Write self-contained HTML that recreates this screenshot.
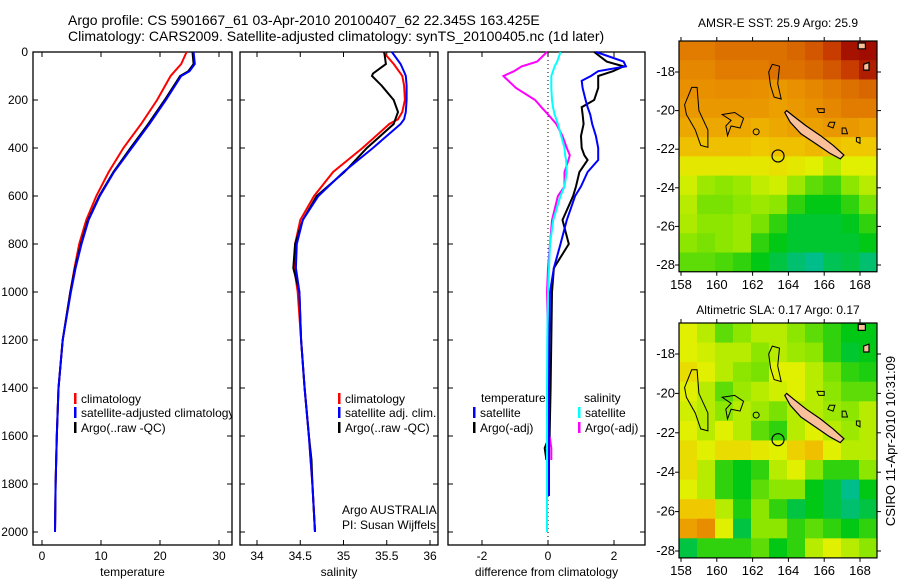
<!DOCTYPE html>
<html><head><meta charset="utf-8"><style>
html,body{margin:0;padding:0;background:#fff;}
svg{display:block;font-family:"Liberation Sans",sans-serif;}
text{fill:#000;}
</style></head><body>
<svg id="fig" width="900" height="580" viewBox="0 0 900 580" xmlns="http://www.w3.org/2000/svg">
<text x="68" y="25" font-size="14">Argo profile: CS 5901667_61 03-Apr-2010 20100407_62 22.345S 163.425E</text>
<text x="68" y="41" font-size="14">Climatology: CARS2009. Satellite-adjusted climatology: synTS_20100405.nc (1d later)</text>
<g id="g1"></g>
<g id="g2"></g>
<g id="g3"></g>
<g id="m1"></g>
<g id="m2"></g>
<text transform="translate(895,441) rotate(-90)" text-anchor="middle" font-size="13">CSIRO 11-Apr-2010 10:31:09</text>
</svg>
<script>
// ---- data ----
const tDepth=[0,50,80,100,200,300,400,500,600,700,800,900,1000,1200,1400,1600,1800,2000];
const tClim=[24.5,23.6,22.5,21.8,19.5,16.8,13.8,11.3,9.2,7.5,6.3,5.5,4.8,3.5,2.8,2.5,2.3,2.2];
const tSat=[25.7,25.9,25.0,23.6,21.0,18.2,15.2,12.2,9.8,7.9,6.7,5.7,4.9,3.5,2.8,2.5,2.3,2.2];
const tArgo=[25.5,25.7,24.8,23.4,20.8,18.0,15.0,12.1,9.7,7.8,6.6,5.6,4.8,3.5,2.8,2.5,2.3,2.2];
const sDepth=[0,50,90,100,140,200,250,280,300,400,500,600,700,800,900,1000,1200,1400,1600,1700,1800,2000];
const sClim=[35.46,35.58,35.66,35.68,35.70,35.71,35.68,35.63,35.53,35.22,34.88,34.66,34.50,34.44,34.43,34.47,34.51,34.55,34.60,34.62,34.64,34.67];
const sSat=[35.56,35.66,35.71,35.72,35.73,35.73,35.72,35.70,35.66,35.34,35.00,34.71,34.53,34.46,34.45,34.49,34.51,34.55,34.60,34.62,34.64,34.67];
const sArgo=[35.47,35.49,35.34,35.33,35.44,35.58,35.63,35.60,35.58,35.27,35.01,34.69,34.53,34.44,34.42,34.49,34.51,34.55,34.60,34.63,34.64,34.67];
const dDepth=[0,40,60,80,100,120,150,200,230,260,300,350,400,430,450,500,560,600,700,800,900,1000,1200,1400,1600,1650,1700,1850,2000];
const dTempSat=[1.46,2.29,2.36,1.52,1.30,1.02,1.05,1.14,1.2,1.28,1.34,1.45,1.52,1.52,1.52,1.2,1.0,0.82,0.57,0.38,0.18,0.06,0.04,0.03,0.03,0.03,0.03,0.03,null];
const dTempArgo=[1.4,1.78,2.29,1.97,1.52,1.52,1.52,1.4,1.02,1.05,1.08,1.0,1.02,1.1,1.2,0.95,0.85,0.76,0.44,0.63,0.18,0.12,0.1,0.08,0.05,-0.1,-0.05,null,null];
const dSalSat=[0.38,0.28,0.2,0.15,0.1,0.1,0.1,0.12,0.15,0.2,0.3,0.4,0.5,0.52,0.55,0.57,0.5,0.38,0.16,0.06,0.03,0.0,-0.02,-0.03,-0.03,-0.03,-0.03,-0.03,-0.03];
const dSalArgo=[-0.03,-0.33,-0.8,-1.03,-1.35,-1.2,-0.97,-0.39,-0.2,0.0,0.25,0.44,0.57,0.66,0.62,0.5,0.5,0.3,0.12,0.06,0.0,-0.03,0.0,0.02,0.05,0.1,0.1,null,null];
const tTicks=[0,10,20,30];
const sTicks=[34,34.5,35,35.5,36];
const dTicks=[-2,0,2];
const zTicks=[0,200,400,600,800,1000,1200,1400,1600,1800,2000];
const lonTicks=[158,160,162,164,166,168];
const latTicks=[18,20,22,24,26,28];
const sstGrid=[
[.78,.78,.8,.8,.8,.8,.82,.85,.9,.97,.98],
[.76,.76,.78,.78,.78,.8,.8,.82,.85,.9,.95],
[.74,.74,.75,.75,.74,.72,.74,.76,.78,.8,.82],
[.72,.72,.72,.72,.72,.7,.72,.74,.76,.78,.78],
[.68,.68,.68,.68,.66,.68,.7,.7,.72,.72,.7],
[.62,.62,.62,.62,.6,.62,.62,.64,.62,.6,.6],
[.52,.52,.52,.52,.52,.54,.52,.5,.45,.5,.5],
[.48,.42,.4,.42,.46,.48,.42,.35,.32,.4,.45],
[.45,.38,.38,.4,.42,.4,.3,.25,.25,.3,.38],
[.44,.4,.4,.42,.38,.3,.22,.22,.22,.24,.3],
[.4,.38,.4,.42,.3,.25,.22,.22,.22,.22,.25],
[.35,.35,.33,.3,.25,.2,.15,.12,.18,.2,.15]];
const slaGrid=[
[.5,.45,.35,.4,.45,.45,.4,.35,.3,.25,.25],
[.5,.48,.45,.45,.4,.45,.42,.4,.3,.22,.25],
[.55,.5,.45,.4,.38,.5,.5,.45,.38,.3,.28],
[.5,.45,.35,.42,.45,.48,.5,.45,.4,.35,.35],
[.48,.45,.4,.45,.42,.38,.45,.45,.42,.4,.45],
[.5,.45,.5,.45,.35,.3,.45,.5,.45,.42,.45],
[.55,.5,.55,.55,.52,.5,.58,.62,.5,.45,.45],
[.55,.45,.3,.25,.3,.45,.5,.4,.3,.3,.4],
[.5,.45,.3,.25,.35,.4,.4,.25,.2,.12,.25],
[.6,.6,.45,.28,.4,.3,.2,.25,.2,.15,.2],
[.7,.75,.5,.2,.4,.4,.3,.35,.3,.25,.3],
[.2,.3,.3,.3,.35,.25,.3,.45,.5,.45,.4]];

const NS='http://www.w3.org/2000/svg';
function mk(tag,attrs,parent){const e=document.createElementNS(NS,tag);for(const k in attrs)e.setAttribute(k,attrs[k]);parent.appendChild(e);return e;}
const top0=52,bot=545,yz=d=>52+0.24*d;

function panel(g,x0,x1,xs,ticks,fmt,label,showY){
  const r=mk('rect',{x:x0,y:top0,width:x1-x0,height:bot-top0,fill:'none',stroke:'#000','stroke-width':1.3},g);
  
  
  ticks.forEach(v=>{const x=xs(v);
    mk('line',{x1:x,x2:x,y1:bot,y2:bot-5,stroke:'#000'},g);mk('line',{x1:x,x2:x,y1:top0,y2:top0+5,stroke:'#000'},g);
    const t=mk('text',{x:x,y:560,'text-anchor':'middle','font-size':12},g);t.textContent=fmt(v);
    
    });
  zTicks.forEach(d=>{const y=yz(d);
    mk('line',{x1:x0,x2:x0+5,y1:y,y2:y,stroke:'#000'},g);mk('line',{x1:x1,x2:x1-5,y1:y,y2:y,stroke:'#000'},g);
    if(showY){const t=mk('text',{x:28,y:y+4,'text-anchor':'end','font-size':12},g);t.textContent=d;
      
      }});
  const l=mk('text',{x:(x0+x1)/2,y:576,'text-anchor':'middle','font-size':12},g);l.textContent=label;
  
  
}
function line(g,xs,vals,depths,color,name){
  let d='',pen=false;
  vals.forEach((v,i)=>{if(v===null){pen=false;return;}d+=(pen?'L':'M')+xs(v).toFixed(1)+','+yz(depths[i]).toFixed(1);pen=true;});
  const p=mk('path',{d:d,fill:'none',stroke:color,'stroke-width':2},g);
  
  
}
function legend(g,x,y,color,text,name){
  mk('rect',{x:x,y:y-9,width:2.5,height:11,fill:color},g);
  const t=mk('text',{x:x+7,y:y+1,'font-size':12},g);t.textContent=text;
  
  
}
const g1=document.getElementById('g1');const xT=v=>42+5.9*v;
panel(g1,33,232,xT,tTicks,v=>v,'temperature',true);
line(g1,xT,tClim,tDepth,'#f00','temp-climatology-line');
line(g1,xT,tArgo,tDepth,'#000','temp-argo-line');
line(g1,xT,tSat,tDepth,'#00f','temp-satellite-line');
const cl=mk('clipPath',{id:'c1'},g1);mk('rect',{x:33,y:52,width:199,height:493},cl);
const lg1=mk('g',{'clip-path':'url(#c1)'},g1);
legend(lg1,74,402,'#f00','climatology','legend-climatology');
legend(lg1,74,416,'#00f','satellite-adjusted climatology','legend-satellite');
legend(lg1,74,431,'#000','Argo(..raw -QC)','legend-argo');
const g2=document.getElementById('g2');const xS=v=>257+86.5*(v-34);
panel(g2,240,438,xS,sTicks,v=>v,'salinity',false);
line(g2,xS,sClim,sDepth,'#f00','sal-climatology-line');
line(g2,xS,sArgo,sDepth,'#000','sal-argo-line');
line(g2,xS,sSat,sDepth,'#00f','sal-satellite-line');
legend(g2,338,402,'#f00','climatology','legend-climatology');
legend(g2,338,416,'#00f','satellite adj. clim.','legend-satellite');
legend(g2,338,431,'#000','Argo(..raw -QC)','legend-argo');
[['Argo AUSTRALIA',514],['PI: Susan Wijffels',529]].forEach(a=>{const t=mk('text',{x:342,y:a[1],'font-size':12},g2);t.textContent=a[0];
  
  });
const g3=document.getElementById('g3');const xD=v=>548+33*v;
panel(g3,448,645,xD,dTicks,v=>v,'difference from climatology',false);
mk('line',{x1:xD(0),x2:xD(0),y1:52,y2:545,stroke:'#000','stroke-dasharray':'1,3'},g3);
line(g3,xD,dSalArgo,dDepth,'#f0f','sal-argo-diff-line');
line(g3,xD,dTempArgo,dDepth,'#000','temp-argo-diff-line');
line(g3,xD,dTempSat,dDepth,'#00f','temp-satellite-diff-line');
line(g3,xD,dSalSat,dDepth,'#0ff','sal-satellite-diff-line');
[['temperature',481,402],['salinity',584,402]].forEach(a=>{const t=mk('text',{x:a[1],y:a[2],'font-size':12},g3);t.textContent=a[0];
  
  });
legend(g3,473,416,'#00f','satellite','legend-temp-satellite');
legend(g3,473,431,'#000','Argo(-adj)','legend-temp-argo');
legend(g3,578,416,'#0ff','satellite','legend-sal-satellite');
legend(g3,578,431,'#f0f','Argo(-adj)','legend-sal-argo');

const stops=[[0,[40,150,230]],[.12,[0,190,140]],[.25,[0,200,20]],[.4,[140,230,0]],[.5,[225,240,0]],[.6,[240,200,0]],[.75,[232,140,0]],[.9,[200,60,0]],[1,[150,0,0]]];
function cmap(v){for(let i=1;i<stops.length;i++){if(v<=stops[i][0]){const a=stops[i-1],b=stops[i],f=(v-a[0])/(b[0]-a[0]);return 'rgb('+a[1].map((c,k)=>Math.round(c+f*(b[1][k]-c))).join(',')+')';}}return 'rgb(150,0,0)';}
const outlines=[
 [[158.2,19.7],[158.6,18.8],[158.9,18.8],[159.0,20.0],[159.5,21.0],[159.5,21.9],[159.1,21.8],[158.8,21.0],[158.3,20.2]],
 [[160.3,20.2],[161.0,20.1],[161.5,20.4],[161.3,20.9],[160.8,20.8],[160.6,21.3],[160.5,20.8],[160.8,20.5]],
 [[162.9,18.0],[163.1,17.6],[163.5,17.7],[163.4,18.6],[163.6,19.4],[163.2,19.3],[163.0,18.7]],
 [[165.6,19.9],[166,19.9],[166,20.1],[165.7,20.1]],
 [[166.3,20.6],[166.6,20.6],[166.5,20.9],[166.2,20.8]],
 [[167.0,20.9],[167.2,20.9],[167.3,21.2],[167.0,21.2]],
 [[167.8,21.4],[168,21.4],[168,21.7],[167.8,21.6]]];
const filled=[
 [[163.9,20.0],[164.3,20.3],[165,20.8],[165.8,21.3],[166.5,21.8],[167.1,22.3],[166.9,22.5],[166.3,22.2],[165.5,21.7],[164.7,21.2],[164.1,20.6],[163.8,20.1]],
 [[168.2,17.6],[168.5,17.5],[168.5,17.9],[168.2,17.9]],
 [[167.9,16.5],[168.3,16.5],[168.3,16.8],[167.9,16.8]]];
function map(g,top,y18,pdeg,grid,title,titleY){
  const x0=679,x1=877,xl=v=>681+(v-158)*17.9,yl=v=>y18+(v-18)*pdeg;
  const bottom=yl(28.35);
  const cl=mk('clipPath',{id:'cp'+top},g);mk('rect',{x:x0,y:top,width:x1-x0,height:bottom-top},cl);
  const cg=mk('g',{'clip-path':'url(#cp'+top+')'},g);
  const rows=grid.length,cols=grid[0].length,ch=(bottom-top)/rows,cw=(x1-x0)/cols;
  grid.forEach((row,r)=>row.forEach((v,c)=>{
    const cell=mk('rect',{x:x0+c*cw,y:top+r*ch,width:cw+.6,height:ch+.6,fill:cmap(v)},cg);
    
    }));
  const pts=a=>a.map(p=>xl(p[0]).toFixed(1)+','+yl(p[1]).toFixed(1)).join(' ');
  outlines.forEach(o=>mk('polygon',{points:pts(o),fill:'none',stroke:'#000','stroke-width':1},cg));
  filled.forEach(o=>mk('polygon',{points:pts(o),fill:'#f9c09a',stroke:'#000','stroke-width':1.2},cg));
  mk('circle',{cx:xl(162.2),cy:yl(21.1),r:3,fill:'none',stroke:'#000'},cg);
  const c=mk('circle',{cx:xl(163.42),cy:yl(22.35),r:6,fill:'none',stroke:'#000','stroke-width':1.2},cg);
  
  
  mk('rect',{x:x0,y:top,width:x1-x0,height:bottom-top,fill:'none',stroke:'#000','stroke-width':1.2},g);
  lonTicks.forEach(v=>{const x=xl(v);mk('line',{x1:x,x2:x,y1:bottom,y2:bottom+4,stroke:'#000'},g);mk('line',{x1:x,x2:x,y1:top,y2:top-4,stroke:'#000'},g);
    const t=mk('text',{x:x,y:bottom+17,'text-anchor':'middle','font-size':13},g);t.textContent=v;
    
    });
  latTicks.forEach(v=>{const y=yl(v);mk('line',{x1:x0,x2:x0-4,y1:y,y2:y,stroke:'#000'},g);mk('line',{x1:x1,x2:x1+4,y1:y,y2:y,stroke:'#000'},g);
    const t=mk('text',{x:675,y:y+4,'text-anchor':'end','font-size':13},g);t.textContent='-'+v;
    
    });
  const t=mk('text',{x:778,y:titleY,'text-anchor':'middle','font-size':12},g);t.textContent=title;
  
  
}
map(document.getElementById('m1'),41,72,19.3,sstGrid,'AMSR-E SST: 25.9 Argo: 25.9',27);
map(document.getElementById('m2'),323,354,19.7,slaGrid,'Altimetric SLA: 0.17 Argo: 0.17',314);
</script>
</body></html>
